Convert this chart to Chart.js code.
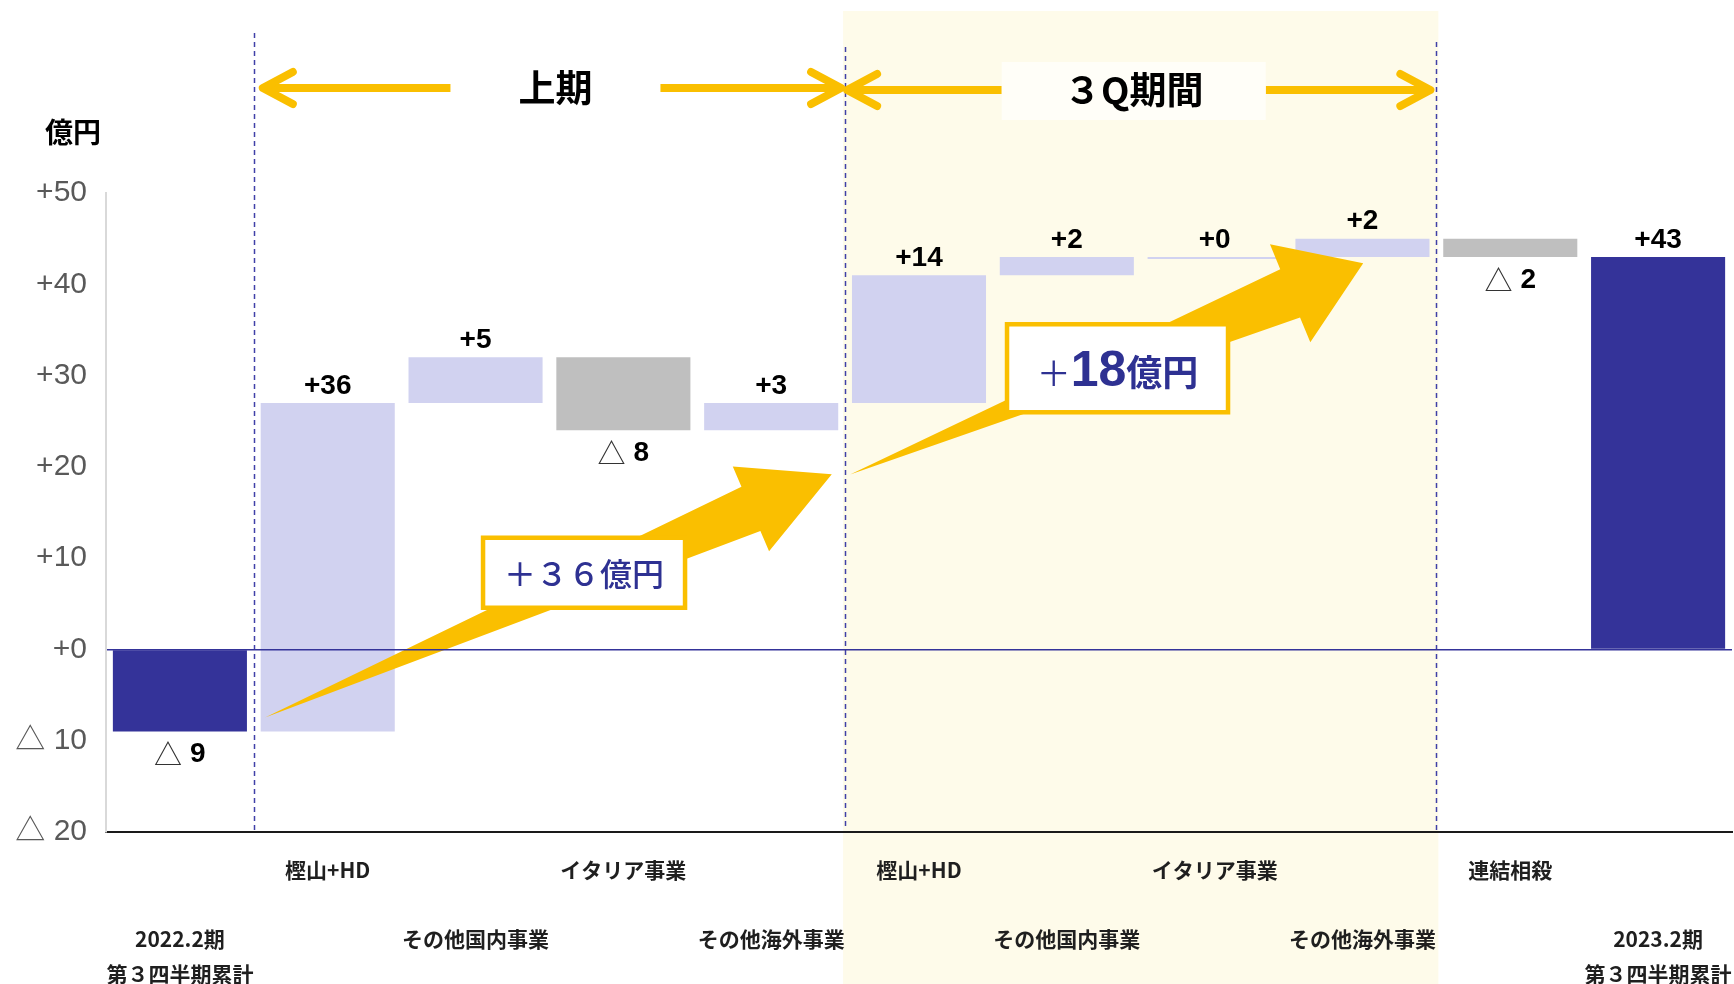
<!DOCTYPE html>
<html lang="ja">
<head>
<meta charset="utf-8">
<title>営業利益 増減要因</title>
<script src="https://cdn.jsdelivr.net/npm/chart.js@4.4.1/dist/chart.umd.min.js"></script>
<style>
    html, body { margin: 0; padding: 0; background: #fff; }
    #wrap { position: relative; width: 1734px; height: 984px; }
</style>
</head>
<body>
<div id="wrap"><canvas id="bridgeChart"></canvas></div>
<script>
// ---- chart values ----
// multi-line labels: empty lines push a label down to the second row
const categoryLabels = [
    ['', '', '2022.2期', '第３四半期累計'],
    ['樫山+HD'],
    ['', '', 'その他国内事業'],
    ['イタリア事業'],
    ['', '', 'その他海外事業'],
    ['樫山+HD'],
    ['', '', 'その他国内事業'],
    ['イタリア事業'],
    ['', '', 'その他海外事業'],
    ['連結相殺'],
    ['', '', '2023.2期', '第３四半期累計']
];
const startTotal = -9;
const changes = [36, 5, -8, 3, 14, 2, 0, 2, -2];
const endTotal = 43;
const yTicks = [-20, -10, 0, 10, 20, 30, 40, 50];
const periodLabels = ['上期', '３Q期間'];
const periodBounds = [[0.5, 4.5], [4.5, 8.5]];
const growthLabels = ['＋３６億円', '＋18億円'];

const DARK = '#343399';
const LIGHT = '#d1d2f0';
const GREY = '#bfbfbf';
const YELLOW = '#fabf00';
const TEXT_BLUE = '#2e3192';
const JP = "'Noto Sans CJK JP', sans-serif";
const LATIN = "'Liberation Sans', 'Noto Sans CJK JP', sans-serif";

// build floating bars from the running total
const floating = [];
const deltas = [];
let level = startTotal;
floating.push([0, startTotal]);
deltas.push(startTotal);
changes.forEach(function(c) {
    floating.push([level, level + c]);
    deltas.push(c);
    level += c;
});
floating.push([0, endTotal]);
deltas.push(endTotal);

const barColors = deltas.map(function(d, i) {
    if (i === 0 || i === deltas.length - 1) return DARK;
    return d < 0 ? GREY : LIGHT;
});

function fmt(v) {
    if (v < 0) return '△ ' + (-v);
    return '+' + v;
}

// fat arrow with a pointed tail
function fatArrow(ctx, x0, y0, x1, y1, headLen, headHalf, shaftHalf) {
    const dx = x1 - x0, dy = y1 - y0, len = Math.hypot(dx, dy);
    const ux = dx / len, uy = dy / len, nx = -uy, ny = ux;
    const bx = x1 - ux * headLen, by = y1 - uy * headLen;
    ctx.beginPath();
    ctx.moveTo(x0, y0);
    ctx.lineTo(bx + nx * shaftHalf, by + ny * shaftHalf);
    ctx.lineTo(bx + nx * headHalf, by + ny * headHalf);
    ctx.lineTo(x1, y1);
    ctx.lineTo(bx - nx * headHalf, by - ny * headHalf);
    ctx.lineTo(bx - nx * shaftHalf, by - ny * shaftHalf);
    ctx.closePath();
    ctx.fill();
}

// double headed period arrow with a gap for its label
function periodArrow(ctx, xL, xR, y, gapL, gapR) {
    ctx.save();
    ctx.strokeStyle = YELLOW;
    ctx.lineWidth = 8;
    ctx.lineCap = 'butt';
    ctx.beginPath();
    ctx.moveTo(xL + 3, y); ctx.lineTo(gapL, y);
    ctx.moveTo(gapR, y); ctx.lineTo(xR - 3, y);
    ctx.stroke();
    ctx.lineCap = 'round';
    ctx.lineJoin = 'round';
    ctx.beginPath();
    ctx.moveTo(xL + 30, y - 16); ctx.lineTo(xL, y); ctx.lineTo(xL + 30, y + 16);
    ctx.moveTo(xR - 30, y - 16); ctx.lineTo(xR, y); ctx.lineTo(xR - 30, y + 16);
    ctx.stroke();
    ctx.restore();
}

const bridgeDecor = {
    id: 'bridgeDecor',
    beforeDraw: function(chart) {
        const ctx = chart.ctx, x = chart.scales.x;
        // 3Q shading
        const l = x.getPixelForValue(periodBounds[1][0]) - 2;
        const r = x.getPixelForValue(periodBounds[1][1]) + 2;
        ctx.save();
        ctx.fillStyle = '#fefbea';
        ctx.fillRect(l, 11, r - l, chart.height - 11);
        ctx.restore();
    },
    beforeDatasetsDraw: function(chart) {
        const ctx = chart.ctx, x = chart.scales.x, area = chart.chartArea;

        // period separators
        const seps = [0.5, 4.5, 8.5];
        const sepTops = [33, 47, 42];
        ctx.save();
        ctx.strokeStyle = '#4040a8';
        ctx.lineWidth = 1.5;
        ctx.setLineDash([5, 4]);
        seps.forEach(function(s, i) {
            const px = Math.round(x.getPixelForValue(s)) + 0.5;
            ctx.beginPath();
            ctx.moveTo(px, sepTops[i]);
            ctx.lineTo(px, area.bottom - 2);
            ctx.stroke();
        });
        ctx.restore();

        // unit label
        ctx.save();
        ctx.fillStyle = '#000';
        ctx.font = 'bold 28px ' + JP;
        ctx.textAlign = 'center';
        ctx.textBaseline = 'middle';
        ctx.fillText('億円', 73, 132);
        ctx.restore();

        // period arrows
        const textOffsets = [6, -7];
        const gapHalf = [105, 132];
        const arrowY = [88, 90];
        periodBounds.forEach(function(b, i) {
            const xL = x.getPixelForValue(b[0]) + (i === 0 ? 9 : 2);
            const xR = x.getPixelForValue(b[1]) - (i === 0 ? 4 : 6);
            const cx = (x.getPixelForValue(b[0]) + x.getPixelForValue(b[1])) / 2 + textOffsets[i];
            periodArrow(ctx, xL, xR, arrowY[i], cx - gapHalf[i], cx + gapHalf[i]);
            ctx.save();
            if (i === 1) {
                ctx.fillStyle = '#fffef8';
                ctx.fillRect(cx - gapHalf[i], 62, gapHalf[i] * 2, 58);
            }
            ctx.fillStyle = '#000';
            ctx.font = 'bold 37px ' + JP;
            ctx.textAlign = 'center';
            ctx.textBaseline = 'middle';
            ctx.fillText(periodLabels[i], cx, arrowY[i]);
            ctx.restore();
        });
    },
    afterDatasetsDraw: function(chart) {
        const ctx = chart.ctx, x = chart.scales.x, y = chart.scales.y;
        const meta = chart.getDatasetMeta(0);

        // value labels
        meta.data.forEach(function(el, i) {
            const d = deltas[i];
            const top = Math.min(el.y, el.base);
            const bottom = Math.max(el.y, el.base);
            ctx.save();
            ctx.textBaseline = 'middle';
            ctx.fillStyle = '#000';
            if (d < 0) {
                const ly = bottom + 23;
                ctx.font = '28px ' + JP;
                const wTri = ctx.measureText('△').width;
                ctx.font = 'bold 28px ' + LATIN;
                const num = String(-d);
                const wNum = ctx.measureText(num).width;
                const gap = 8;
                let sx = el.x - (wTri + gap + wNum) / 2;
                ctx.textAlign = 'left';
                ctx.font = '28px ' + JP;
                ctx.fillStyle = '#333';
                ctx.fillText('△', sx, ly);
                ctx.font = 'bold 28px ' + LATIN;
                ctx.fillStyle = '#000';
                ctx.fillText(num, sx + wTri + gap, ly);
            } else {
                ctx.textAlign = 'center';
                ctx.font = 'bold 28px ' + LATIN;
                ctx.fillText(fmt(d), el.x, top - 17);
            }
            ctx.restore();
        });

        // growth arrows
        const arrows = [
            { from: [0.576, -7.45], to: [4.41, 19.2], head: 88, half: 46, shaft: 24 },
            { from: [4.534, 19.17], to: [8.005, 42.3], head: 79, half: 53, shaft: 26 }
        ];
        ctx.save();
        ctx.fillStyle = YELLOW;
        arrows.forEach(function(a) {
            fatArrow(ctx,
                x.getPixelForValue(a.from[0]), y.getPixelForValue(a.from[1]),
                x.getPixelForValue(a.to[0]), y.getPixelForValue(a.to[1]),
                a.head, a.half, a.shaft);
        });
        ctx.restore();

        // growth boxes
        const boxes = [
            { at: [2.734, 8.4], w: 202, h: 70 },
            { at: [6.343, 30.8], w: 221, h: 88 }
        ];
        boxes.forEach(function(b, i) {
            const cx = x.getPixelForValue(b.at[0]);
            const cy = y.getPixelForValue(b.at[1]);
            ctx.save();
            ctx.fillStyle = '#fff';
            ctx.strokeStyle = YELLOW;
            ctx.lineWidth = 4.5;
            ctx.fillRect(cx - b.w / 2, cy - b.h / 2, b.w, b.h);
            ctx.strokeRect(cx - b.w / 2, cy - b.h / 2, b.w, b.h);
            ctx.fillStyle = TEXT_BLUE;
            if (i === 0) {
                ctx.font = '500 32px ' + JP;
                ctx.textAlign = 'center';
                ctx.textBaseline = 'middle';
                ctx.fillText(growthLabels[0], cx, cy + 1);
            } else {
                // "＋" / "18" / "億円" in mixed sizes
                const parts = [
                    { t: growthLabels[1].slice(0, 1), f: '34px ' + JP },
                    { t: growthLabels[1].slice(1, 3), f: 'bold 50px ' + LATIN },
                    { t: growthLabels[1].slice(3), f: 'bold 36px ' + JP }
                ];
                let total = 0;
                parts.forEach(function(p) { ctx.font = p.f; p.w = ctx.measureText(p.t).width; total += p.w; });
                let sx = cx - total / 2;
                ctx.textAlign = 'left';
                ctx.textBaseline = 'alphabetic';
                parts.forEach(function(p) {
                    ctx.font = p.f;
                    ctx.fillText(p.t, sx, cy + 18);
                    sx += p.w;
                });
            }
            ctx.restore();
        });
    }
};

document.addEventListener('DOMContentLoaded', function() {
    if (typeof Chart === 'undefined') {
        console.error('Chart.js is not loaded!');
        return;
    }
    const canvas = document.getElementById('bridgeChart');
    new Chart(canvas.getContext('2d'), {
        type: 'bar',
        data: {
            labels: categoryLabels,
            datasets: [{
                data: floating,
                backgroundColor: barColors,
                borderWidth: 0,
                barPercentage: 0.907,
                categoryPercentage: 1.0,
                minBarLength: 2
            }]
        },
        options: {
            responsive: true,
            maintainAspectRatio: false,
            animation: false,
            layout: { padding: { top: 193, right: 2, left: 0, bottom: 0 } },
            plugins: {
                legend: { display: false },
                tooltip: { enabled: false }
            },
            scales: {
                x: {
                    grid: { display: false, drawTicks: false },
                    border: { display: true, color: '#1a1a1a', width: 2 },
                    ticks: {
                        autoSkip: false,
                        maxRotation: 0,
                        padding: 21,
                        color: '#1f1f1f',
                        font: { family: JP, size: 21, weight: 'bold', lineHeight: 1.64 }
                    },
                    afterFit: function(s) {
                        s.height = 152;
                        s.paddingLeft = 0;
                        s.paddingRight = 0;
                    }
                },
                y: {
                    min: yTicks[0],
                    max: yTicks[yTicks.length - 1],
                    afterBuildTicks: function(s) {
                        s.ticks = yTicks.map(function(v) { return { value: v }; });
                    },
                    grid: {
                        color: function(c) { return c.tick && c.tick.value === 0 ? DARK : 'rgba(0,0,0,0)'; },
                        lineWidth: 1.5,
                        drawTicks: false,
                        z: 1
                    },
                    border: { display: true, color: '#d9d9d9', width: 2, z: 1 },
                    ticks: {
                        padding: 19,
                        color: '#595959',
                        font: { family: LATIN, size: 30 },
                        callback: function(v) { return v === 0 ? '+0' : fmt(v); }
                    },
                    afterFit: function(s) { s.width = 106; }
                }
            }
        },
        plugins: [bridgeDecor]
    });
});
</script>
</body>
</html>
